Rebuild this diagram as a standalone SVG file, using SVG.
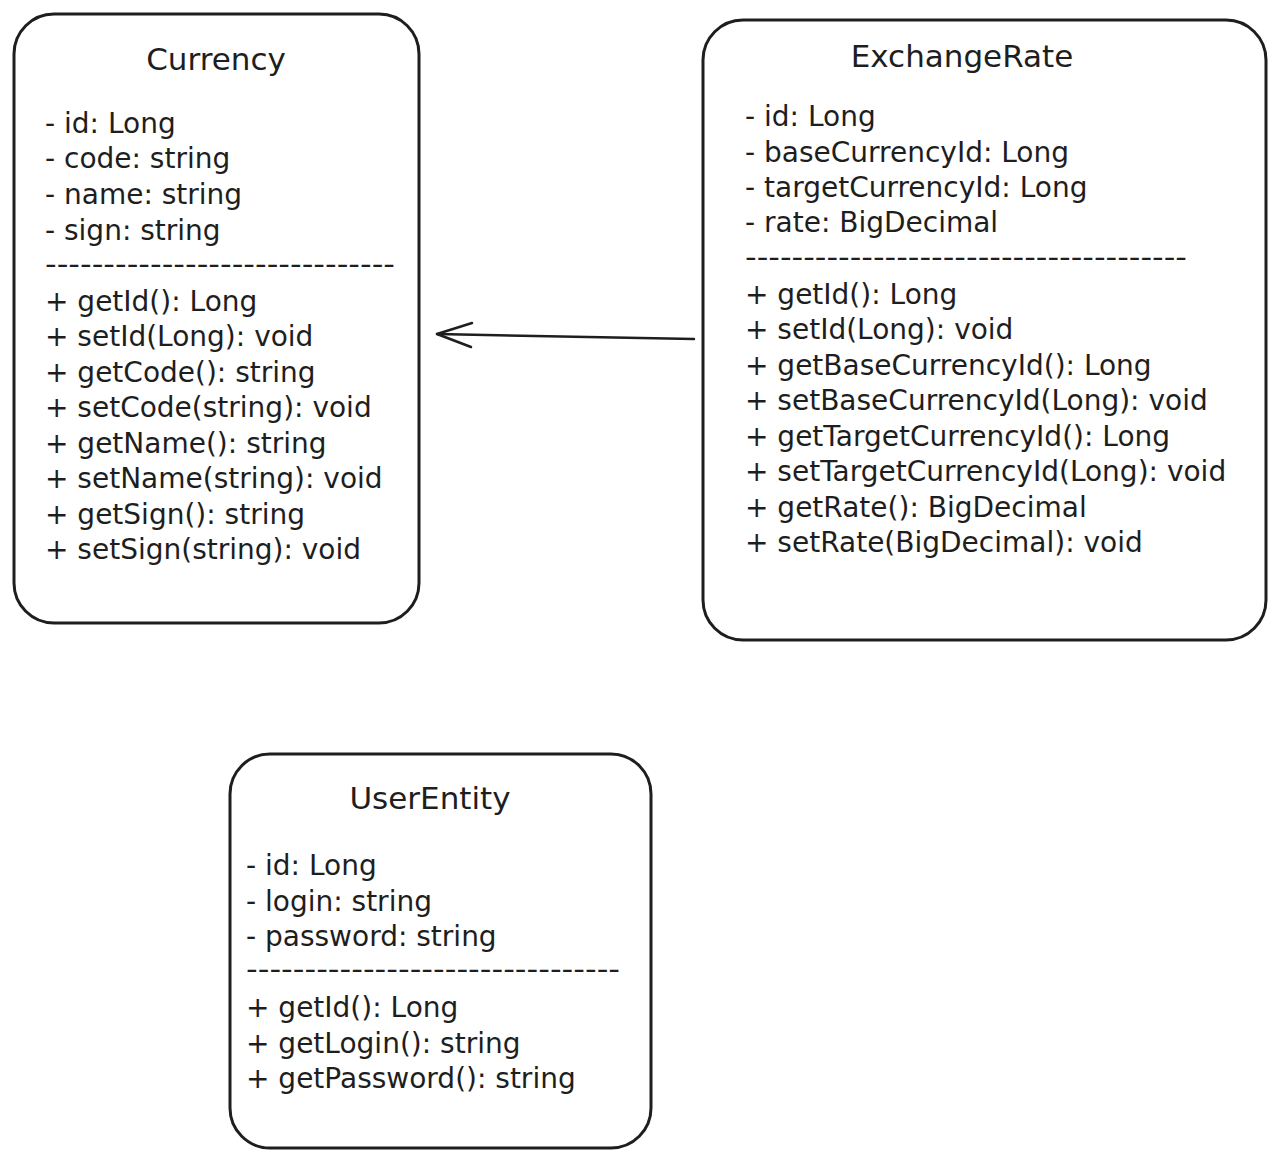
<svg xmlns="http://www.w3.org/2000/svg" width="1280" height="1163" viewBox="0 0 1280 1163">
<style>
.box{fill:#ffffff;stroke:#1e1e1e;stroke-width:3;}
.t{font-family:"DejaVu Sans","Liberation Sans",sans-serif;font-size:28px;fill:#1e1e1e;}
.title{font-family:"DejaVu Sans","Liberation Sans",sans-serif;font-size:31px;fill:#1e1e1e;text-anchor:middle;}
.dash{font-family:"DejaVu Sans","Liberation Sans",sans-serif;font-size:26px;fill:#1e1e1e;}
.conn{fill:none;stroke:#1e1e1e;stroke-width:2.5;stroke-linecap:round;stroke-linejoin:round;}
</style>
<rect width="1280" height="1163" fill="#ffffff"/>
<g id="currency">
<rect class="box" x="14" y="14" width="405" height="609" rx="40" ry="40"/>
<text class="title" x="216" y="70">Currency</text>
<text class="t" x="45" y="133">- id: Long</text>
<text class="t" x="45" y="168">- code: string</text>
<text class="t" x="45" y="204">- name: string</text>
<text class="t" x="45" y="240">- sign: string</text>
<text class="dash" x="45" y="273" textLength="350" lengthAdjust="spacingAndGlyphs">------------------------------</text>
<text class="t" x="45" y="311">+ getId(): Long</text>
<text class="t" x="45" y="346">+ setId(Long): void</text>
<text class="t" x="45" y="382">+ getCode(): string</text>
<text class="t" x="45" y="417">+ setCode(string): void</text>
<text class="t" x="45" y="453">+ getName(): string</text>
<text class="t" x="45" y="488">+ setName(string): void</text>
<text class="t" x="45" y="524">+ getSign(): string</text>
<text class="t" x="45" y="559">+ setSign(string): void</text>
</g>
<g id="exchangerate">
<rect class="box" x="703" y="20" width="563" height="620" rx="40" ry="40"/>
<text class="title" x="962" y="67">ExchangeRate</text>
<text class="t" x="745" y="126">- id: Long</text>
<text class="t" x="745" y="162">- baseCurrencyId: Long</text>
<text class="t" x="745" y="197">- targetCurrencyId: Long</text>
<text class="t" x="745" y="232">- rate: BigDecimal</text>
<text class="dash" x="745" y="266" textLength="442" lengthAdjust="spacingAndGlyphs">--------------------------------------</text>
<text class="t" x="745" y="304">+ getId(): Long</text>
<text class="t" x="745" y="339">+ setId(Long): void</text>
<text class="t" x="745" y="375">+ getBaseCurrencyId(): Long</text>
<text class="t" x="745" y="410">+ setBaseCurrencyId(Long): void</text>
<text class="t" x="745" y="446">+ getTargetCurrencyId(): Long</text>
<text class="t" x="745" y="481">+ setTargetCurrencyId(Long): void</text>
<text class="t" x="745" y="517">+ getRate(): BigDecimal</text>
<text class="t" x="745" y="552">+ setRate(BigDecimal): void</text>
</g>
<g id="userentity">
<rect class="box" x="230" y="754" width="421" height="394" rx="40" ry="40"/>
<text class="title" x="430" y="809">UserEntity</text>
<text class="t" x="246" y="875">- id: Long</text>
<text class="t" x="246" y="911">- login: string</text>
<text class="t" x="246" y="946">- password: string</text>
<text class="dash" x="246" y="978" textLength="374" lengthAdjust="spacingAndGlyphs">--------------------------------</text>
<text class="t" x="246" y="1017">+ getId(): Long</text>
<text class="t" x="246" y="1053">+ getLogin(): string</text>
<text class="t" x="246" y="1088">+ getPassword(): string</text>
</g>
<g id="connectors">
<path class="conn" d="M694 339 L437 334"/>
<path class="conn" d="M472 323 L437 334 L471 347"/>
</g>
</svg>
